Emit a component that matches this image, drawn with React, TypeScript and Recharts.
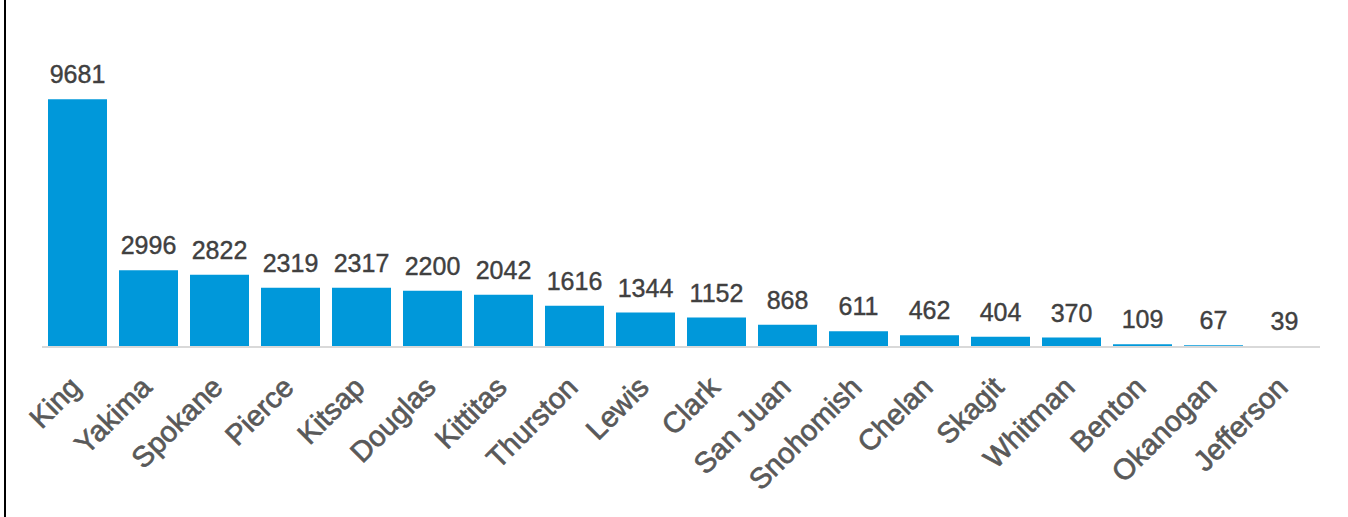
import React from 'react';
import { BarChart, Bar, XAxis, YAxis, LabelList } from 'recharts';

const counties = [
  'King', 'Yakima', 'Spokane', 'Pierce', 'Kitsap', 'Douglas', 'Kittitas', 'Thurston', 'Lewis',
  'Clark', 'San Juan', 'Snohomish', 'Chelan', 'Skagit', 'Whitman', 'Benton', 'Okanogan', 'Jefferson',
];
const counts = [9681, 2996, 2822, 2319, 2317, 2200, 2042, 1616, 1344, 1152, 868, 611, 462, 404, 370, 109, 67, 39];

const data = counties.map((name, i) => ({ name, value: counts[i] }));

// rotated county names, end of text sits just right of the bar centre
const AngledTick = (props: any) => {
  const { x, y, payload } = props;
  return (
    <g transform={`translate(${x + 5},${y + 34})`}>
      <text
        x={0}
        y={0}
        textAnchor="end"
        transform="rotate(-45)"
        fill="#595959"
        stroke="#595959"
        strokeWidth={0.7}
        fontSize={29}
        fontFamily="Liberation Sans, Arial, sans-serif"
      >
        {payload.value}
      </text>
    </g>
  );
};

export default function App() {
  return (
    <div style={{ position: 'absolute', left: 0, top: 0, width: 1348, height: 517, background: '#fff' }}>
      <div style={{ position: 'absolute', left: 4, top: 0, width: 2, height: 517, background: '#000' }} />
      <BarChart
        width={1348}
        height={517}
        data={data}
        margin={{ top: 91, right: 28, bottom: 0, left: 42 }}
        barCategoryGap={6}
      >
        <YAxis hide domain={[0, 10000]} />
        <XAxis
          dataKey="name"
          interval={0}
          height={170}
          tickLine={false}
          axisLine={{ stroke: '#d9d9d9', strokeWidth: 2 }}
          tick={<AngledTick />}
        />
        <Bar dataKey="value" fill="#0098da" isAnimationActive={false}>
          <LabelList
            dataKey="value"
            position="top"
            offset={16}
            fill="#404040"
            stroke="#404040"
            strokeWidth={0.4}
            fontSize={25}
            fontFamily="Liberation Sans, Arial, sans-serif"
          />
        </Bar>
      </BarChart>
    </div>
  );
}
